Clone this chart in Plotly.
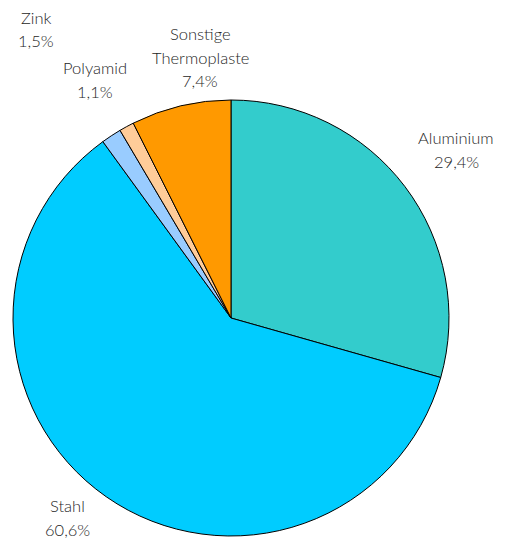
import plotly.graph_objects as go

labels = ["Aluminium", "Stahl", "Zink", "Polyamid", "Sonstige Thermoplaste"]
values = [29.4, 60.6, 1.5, 1.1, 7.4]
value_text = ["29,4%", "60,6%", "1,5%", "1,1%", "7,4%"]
name_lines = [["Aluminium"], ["Stahl"], ["Zink"], ["Polyamid"], ["Sonstige", "Thermoplaste"]]
colors = ["#33CCCC", "#00CCFF", "#99CCFF", "#FFCC99", "#FF9900"]

W, H = 507, 539
# label placement (pixel center x, center y of first line) - text placement only
label_anchor = [(456, 138), (67, 506), (36, 18), (95, 68), (200, 34)]
LINE_STEP = 23.5

fig = go.Figure(go.Pie(
    labels=labels, values=values, sort=False, direction="clockwise", rotation=0,
    marker=dict(colors=colors, line=dict(color="#000000", width=1)),
    textinfo="none", hoverinfo="label+percent", showlegend=False,
    domain=dict(x=[13 / W, 449 / W], y=[3 / H, 439 / H]),
))

annotations = []
for names, val, (px, py) in zip(name_lines, value_text, label_anchor):
    lines = names + [val]
    for i, line in enumerate(lines):
        yy = py + i * LINE_STEP
        annotations.append(dict(
            x=px / W, y=1 - yy / H, xref="paper", yref="paper", showarrow=False,
            text=line, align="center", xanchor="center", yanchor="middle",
            font=dict(family="Lato", size=16.5, color="#262626", weight=300),
        ))

fig.update_layout(
    width=W, height=H, margin=dict(l=0, r=0, t=0, b=0),
    paper_bgcolor="white", plot_bgcolor="white", annotations=annotations,
)
fig.write_html("out.html", config={"displayModeBar": False},
               post_script="document.body.style.margin='0';")
